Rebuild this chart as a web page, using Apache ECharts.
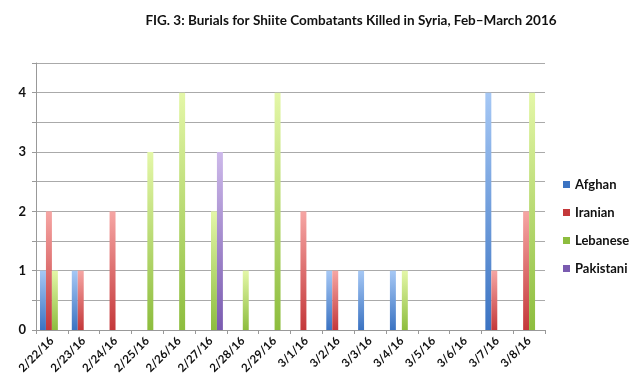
<!DOCTYPE html>
<html><head><meta charset="utf-8">
<script src="https://cdn.jsdelivr.net/npm/echarts@6/dist/echarts.min.js"></script>
<style>html,body{margin:0;padding:0;background:#fff}#c{width:640px;height:384px}</style>
</head><body><div id="c"></div>
<script>
const categories = ['2/22/16','2/23/16','2/24/16','2/25/16','2/26/16','2/27/16','2/28/16','2/29/16','3/1/16','3/2/16','3/3/16','3/4/16','3/5/16','3/6/16','3/7/16','3/8/16'];
const afghan    = [1,1,0,0,0,0,0,0,0,1,1,1,0,0,4,0];
const iranian   = [2,1,2,0,0,0,0,0,2,1,0,0,0,0,1,2];
const lebanese  = [1,0,0,3,4,2,1,4,0,0,0,1,0,0,0,4];
const pakistani = [0,0,0,0,0,3,0,0,0,0,0,0,0,0,0,0];
const seriesNames = ['Afghan','Iranian','Lebanese','Pakistani'];
const yTicks = [0,1,2,3,4];

const grads = [
  ['#a6c8f5','#3b73c2'],
  ['#f6a6a4','#c4383a'],
  ['#e4f7a8','#8dbd3e'],
  ['#cdb9ea','#7a5bb0']
];
function grad(c){return new echarts.graphic.LinearGradient(0,0,0,1,[{offset:0,color:c[0]},{offset:1,color:c[1]}]);}
const data = [afghan,iranian,lebanese,pakistani];
const F = 'Lato';
const chart = echarts.init(document.getElementById('c'));
chart.setOption({
  animation:false,
  title:{text:'FIG. 3: Burials for Shiite Combatants Killed in Syria, Feb\u2013March 2016',left:346,textAlign:'center',top:9,
    textStyle:{fontFamily:F,fontWeight:'bold',fontSize:13.5,color:'#111'}},
  legend:{orient:'vertical',left:558,top:173,itemWidth:7,itemHeight:7,itemGap:15,icon:'rect',
    textStyle:{fontFamily:F,fontWeight:'bold',fontSize:13,color:'#111'},
    data:seriesNames.map((n,i)=>({name:n,itemStyle:{color:grads[i][1]}}))},
  grid:{left:36,right:95,top:63,bottom:54},
  xAxis:{type:'category',data:categories,
    axisLine:{lineStyle:{color:'#999'}},
    axisTick:{show:true,length:4,lineStyle:{color:'#999'}},
    axisLabel:{rotate:45,interval:0,fontFamily:F,fontWeight:'bold',fontSize:11.5,color:'#111',margin:9}},
  yAxis:{type:'value',min:0,max:4.5,interval:0.5,
    axisLine:{show:true,lineStyle:{color:'#999'}},
    axisTick:{show:true,length:4,lineStyle:{color:'#999'}},
    splitLine:{lineStyle:{color:'#aaa'}},
    axisLabel:{fontFamily:F,fontWeight:'bold',fontSize:13,color:'#111',margin:10,
      formatter:v=>yTicks.includes(v)?String(v):''}},
  series:data.map((d,i)=>({name:seriesNames[i],type:'bar',data:d,barGap:'0%',barCategoryGap:'25%',
    itemStyle:{color:grad(grads[i])}}))
});
</script></body></html>
